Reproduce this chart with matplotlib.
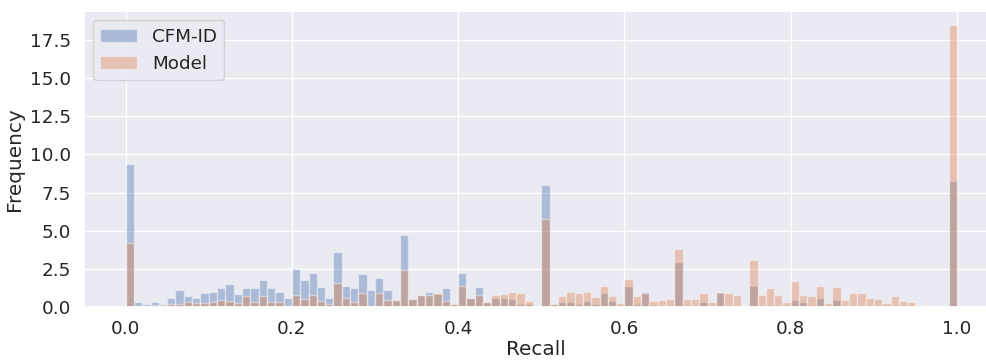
import numpy as np
import matplotlib
matplotlib.use("Agg")
import matplotlib.pyplot as plt
import seaborn as sns

sns.set_theme(style="darkgrid", font_scale=1.2)

# Histogram bin edges (100 bins over recall 0..1)
bin_edges = np.linspace(0, 1, 101)

# Estimated bar heights (density) per bin
cfm_id = [9.4, 0.35, 0.2, 0.3, 0.2, 0.6, 1.1, 0.7, 0.6, 0.9,
          1.0, 1.25, 1.5, 0.85, 1.25, 1.25, 1.75, 1.25, 1.0, 0.6,
          2.5, 1.8, 2.25, 1.3, 0.6, 3.6, 1.35, 1.25, 2.15, 1.1,
          1.9, 1.1, 0.45, 4.75, 0.5, 0.8, 1.0, 0.85, 1.25, 0.2,
          2.2, 0.6, 1.3, 0.3, 0.6, 0.6, 0.5, 0.2, 0.2, 0.05,
          8.0, 0.2, 0.3, 0.35, 0.2, 0.4, 0.2, 0.95, 0.4, 0.1,
          1.37, 0.22, 1.0, 0.15, 0.05, 0.05, 2.97, 0.05, 0.05, 0.32,
          0.05, 0.95, 0.05, 0.05, 0.0, 1.4, 0.05, 0.12, 0.05, 0.05,
          0.48, 0.3, 0.05, 0.6, 0.05, 0.43, 0.05, 0.05, 0.05, 0.05,
          0.05, 0.05, 0.05, 0.05, 0.05, 0.02, 0.0, 0.0, 0.0, 8.28]

model = [4.2, 0.05, 0.05, 0.1, 0.1, 0.2, 0.2, 0.3, 0.25, 0.25,
         0.35, 0.45, 0.4, 0.25, 0.7, 0.35, 0.7, 0.3, 0.35, 0.05,
         0.8, 0.5, 0.8, 0.4, 0.2, 1.55, 0.6, 0.35, 0.95, 0.05,
         0.9, 0.45, 0.45, 2.4, 0.5, 0.8, 0.8, 0.9, 0.4, 0.2,
         1.4, 0.6, 0.8, 0.3, 0.8, 0.85, 1.0, 0.95, 0.4, 0.0,
         5.8, 0.22, 0.75, 1.0, 0.93, 1.0, 0.65, 1.37, 0.7, 0.27,
         1.82, 0.75, 0.95, 0.42, 0.47, 0.55, 3.77, 0.5, 0.55, 0.95,
         0.35, 1.0, 0.94, 0.8, 0.0, 3.06, 0.8, 1.25, 0.8, 0.3,
         1.69, 0.8, 0.75, 1.35, 0.25, 1.3, 0.43, 0.95, 0.95, 0.6,
         0.55, 0.25, 0.7, 0.4, 0.3, 0.1, 0.07, 0.0, 0.0, 18.5]

series_labels = ["CFM-ID", "Model"]

centers = (bin_edges[:-1] + bin_edges[1:]) / 2

fig = plt.figure(figsize=(9.87, 3.6), dpi=100)
ax = fig.add_axes([84 / 987, 53 / 360, (987 - 84) / 987, 296 / 360])

ax.hist(centers, bins=bin_edges, weights=cfm_id, alpha=0.4, label=series_labels[0])
ax.hist(centers, bins=bin_edges, weights=model, alpha=0.4, label=series_labels[1])

ax.set_xlim(-0.05, 1.036)
ax.set_ylim(0, 19.4)
ax.set_xticks([0.0, 0.2, 0.4, 0.6, 0.8, 1.0])
ax.set_yticks([0.0, 2.5, 5.0, 7.5, 10.0, 12.5, 15.0, 17.5])
ax.set_xlabel("Recall", labelpad=1.5)
ax.set_ylabel("Frequency")
ax.legend(loc="upper left")

fig.savefig("out.png", dpi=100)
